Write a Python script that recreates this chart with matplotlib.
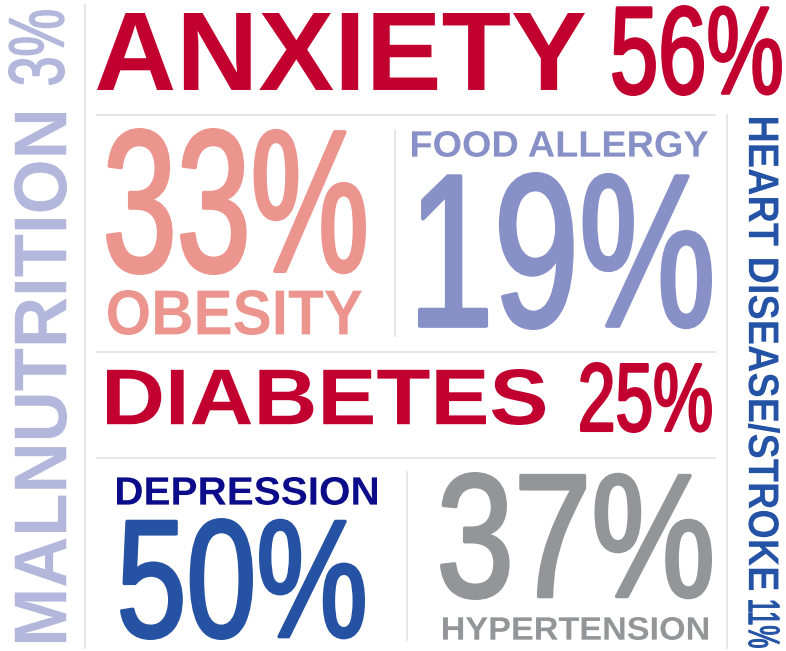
import matplotlib
matplotlib.use("Agg")
import matplotlib.pyplot as plt
from matplotlib import font_manager
from matplotlib.textpath import TextPath
from matplotlib.font_manager import FontProperties
from matplotlib.patches import PathPatch
from matplotlib.transforms import Affine2D

W, H = 786, 651

# data
conditions = ["ANXIETY", "OBESITY", "FOOD ALLERGY", "DIABETES",
              "DEPRESSION", "HYPERTENSION", "MALNUTRITION", "HEART DISEASE/STROKE"]
percent = [56, 33, 19, 25, 50, 37, 3, 11]

# layout (image pixels: x0, y0, x1, y1 with y downwards)
label_boxes = [(97, 13, 585, 90), (108, 290, 362, 335), (412, 131, 708, 157),
               (107, 369, 545, 425), (117, 477, 377, 505), (443, 617, 708, 640),
               (14, 113, 67, 642), (748, 118, 780, 590)]
value_boxes = [(612, 5, 782, 96), (106, 128, 366, 275), (418, 172, 712, 330),
               (580, 362, 712, 433), (120, 518, 365, 640), (440, 472, 712, 600),
               (8, 10, 65, 85), (748, 600, 780, 648)]
rotations = [0, 0, 0, 0, 0, 0, 90, -90]
label_colors = ["#c20030", "#ec958f", "#8890c8", "#c20030",
                "#0c0c8a", "#939598", "#b3b7db", "#2452a5"]
value_colors = ["#c20030", "#ec958f", "#8890c8", "#c20030",
                "#2552a2", "#939598", "#b3b7db", "#2452a5"]
value_stroke = [2.0, 2.6, 2.8, 1.8, 2.4, 2.6, 1.2, 0.8]

names = {f.name for f in font_manager.fontManager.ttflist}
num_family = "Liberation Sans Narrow" if "Liberation Sans Narrow" in names else "Liberation Sans"

label_font = FontProperties(family="Liberation Sans", weight="bold")
value_font = FontProperties(family=num_family, weight="normal")

fig = plt.figure(figsize=(W / 100, H / 100), dpi=100)
ax = fig.add_axes([0, 0, 1, 1])
ax.set_xlim(0, W)
ax.set_ylim(0, H)
ax.axis("off")


def fit_text(s, box, color, font, rot=0, lw=0.0):
    # stretch the glyph outlines so they fill the box
    x0, y0, x1, y1 = box
    pad = lw * 100 / 72 / 2
    x0, x1, y0, y1 = x0 + pad, x1 - pad, y0 + pad, y1 - pad
    p = TextPath((0, 0), s, size=100, prop=font)
    p = Affine2D().rotate_deg(rot).transform_path(p)
    bb = p.get_extents()
    t = (Affine2D().translate(-bb.x0, -bb.y0)
         .scale((x1 - x0) / bb.width, (y1 - y0) / bb.height)
         .translate(x0, H - y1))
    ax.add_patch(PathPatch(t.transform_path(p), fc=color, ec=color if lw else "none",
                           lw=lw, joinstyle="round"))


# grey rules
rule = dict(color="#e4e4e4", lw=1.3)
ax.plot([85, 85], [H - 5, H - 648], **rule)
ax.plot([727, 727], [H - 115, H - 648], **rule)
for y in [115, 352, 458]:
    ax.plot([97, 715], [H - y, H - y], **rule)
ax.plot([395, 395], [H - 130, H - 336], **rule)
ax.plot([407, 407], [H - 472, H - 640], **rule)

for i, name in enumerate(conditions):
    fit_text(name, label_boxes[i], label_colors[i], label_font, rotations[i])
    fit_text(f"{percent[i]}%", value_boxes[i], value_colors[i], value_font,
             rotations[i], value_stroke[i])

fig.savefig("out.png", dpi=100, facecolor="white")
